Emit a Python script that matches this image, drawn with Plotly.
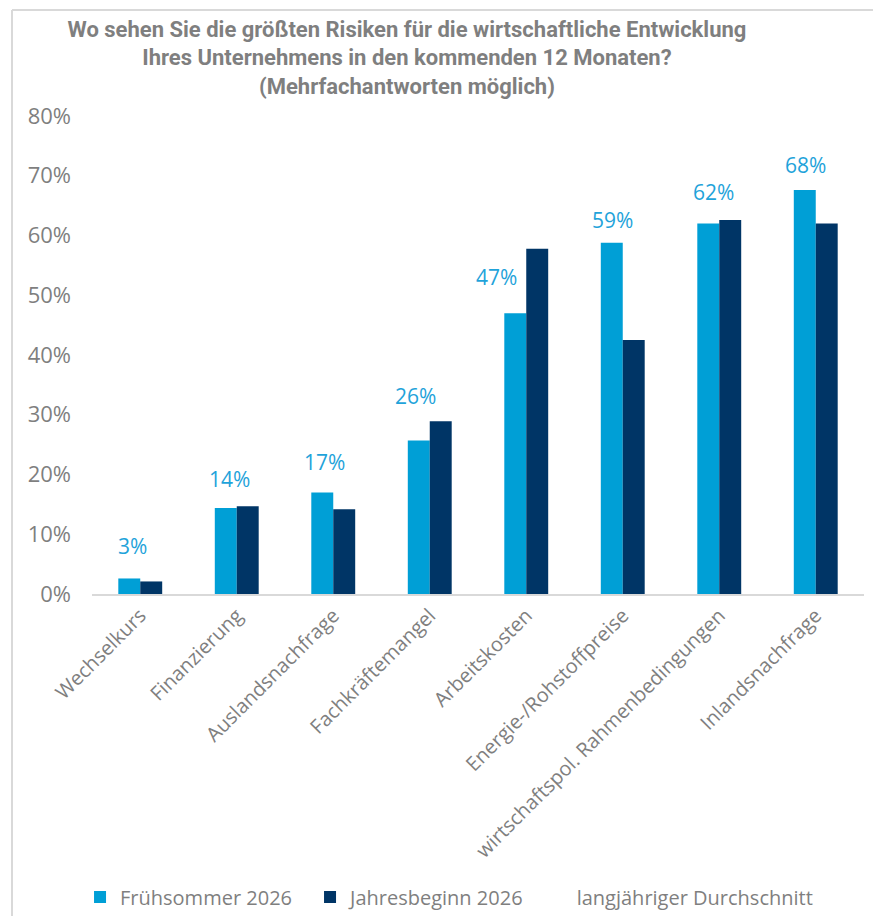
import plotly.graph_objects as go

categories = ["Wechselkurs", "Finanzierung", "Auslandsnachfrage", "Fachkräftemangel",
              "Arbeitskosten", "Energie-/Rohstoffpreise", "wirtschaftspol. Rahmenbedingungen",
              "Inlandsnachfrage"]
fruehsommer_2026 = [2.6, 14.4, 17.0, 25.7, 47.0, 58.8, 62.0, 67.6]
jahresbeginn_2026 = [2.1, 14.7, 14.2, 28.9, 57.8, 42.5, 62.6, 62.0]

# label placement offsets (px), as in the original layout
label_xshift = [3, 4, 2, -3, -19, 1, 5, 1]
label_yshift = [32, 29, 30, 44, 36, 23, 32, 25]

y_ticks = [0, 10, 20, 30, 40, 50, 60, 70, 80]
y_ticktext = [f"{v}%" for v in y_ticks]

LIGHT = "#009FD6"
DARK = "#003566"
GRAY = "#7F7F7F"
FONT = "Open Sans, Noto Sans, sans-serif"

fig = go.Figure()
fig.add_trace(go.Bar(x=categories, y=fruehsommer_2026, name="Frühsommer 2026",
                     marker=dict(color=LIGHT, line=dict(width=0))))
fig.add_trace(go.Bar(x=categories, y=jahresbeginn_2026, name="Jahresbeginn 2026",
                     marker=dict(color=DARK, line=dict(width=0))))
fig.add_trace(go.Scatter(x=[categories[0]], y=[None], mode="lines", name="langjähriger Durchschnitt",
                         line=dict(color="rgba(0,0,0,0)", width=2), legend="legend2"))

for i, (c, v) in enumerate(zip(categories, fruehsommer_2026)):
    fig.add_annotation(x=c, y=v, text=f"{v:.0f}%", showarrow=False,
                       xshift=-11 + label_xshift[i], yshift=label_yshift[i], yanchor="middle",
                       font=dict(family=FONT, size=21, color="#1FA3DA"))

fig.update_layout(
    width=873, height=908,
    paper_bgcolor="white", plot_bgcolor="white",
    margin=dict(l=84, r=17, t=108, b=322, autoexpand=False),
    barmode="group", bargap=0.545, bargroupgap=0,
    title=dict(text="<b>Wo sehen Sie die größten Risiken für die wirtschaftliche Entwicklung<br>"
                    "Ihres Unternehmens in den kommenden 12 Monaten?<br>(Mehrfachantworten möglich)</b>",
               x=0.457, xanchor="center", y=0.9686, yanchor="top",
               font=dict(family="Liberation Sans Narrow, Roboto, sans-serif", size=22, color=GRAY)),
    xaxis=dict(showline=True, linecolor="#D9D9D9", linewidth=2, showgrid=False, automargin=False,
               ticks="", tickangle=-45, tickfont=dict(family=FONT, size=20, color=GRAY)),
    yaxis=dict(range=[0, 80], tickvals=y_ticks, ticktext=y_ticktext, showgrid=False, automargin=False,
               zeroline=False, showline=False, ticks="", ticklabelstandoff=20,
               tickfont=dict(family=FONT, size=22, color=GRAY)),
    legend=dict(orientation="h", x=-0.0155, xanchor="left", y=-0.634, yanchor="middle",
                font=dict(family=FONT, size=20, color=GRAY), traceorder="normal",
                itemwidth=30, entrywidth=185, entrywidthmode="pixels"),
    legend2=dict(orientation="h", x=0.576, xanchor="left", y=-0.634, yanchor="middle",
                 font=dict(family=FONT, size=20, color=GRAY), itemwidth=30),
    showlegend=True,
)

fig.add_shape(type="line", xref="paper", yref="paper", x0=-0.1036, x1=1.03, y0=1.222, y1=1.222,
              line=dict(color="#D9D9D9", width=2))
fig.add_shape(type="line", xref="paper", yref="paper", x0=-0.1036, x1=-0.1036, y0=1.222, y1=-0.7,
              line=dict(color="#D9D9D9", width=2))

fig.write_html("out.html")
